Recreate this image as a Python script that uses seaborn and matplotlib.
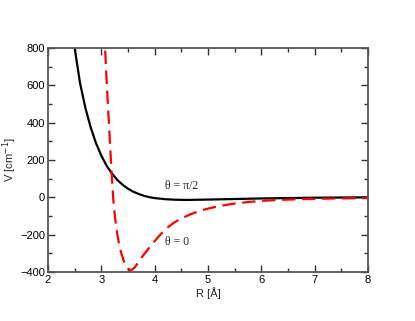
import numpy as np
import pandas as pd
import matplotlib
matplotlib.use("Agg")
import matplotlib.pyplot as plt
import seaborn as sns
from matplotlib.ticker import MultipleLocator

# theta = pi/2 curve
r_perp = [2.45, 2.50, 2.60, 2.70, 2.80, 2.90, 3.00, 3.10, 3.20, 3.30, 3.40, 3.50,
          3.60, 3.70, 3.80, 3.90, 4.00, 4.20, 4.40, 4.60, 5.00, 5.50, 6.00,
          6.50, 7.00, 7.50, 8.00]
v_perp = [874, 800, 613, 480, 375, 290, 223, 169, 127, 93, 67, 46,
          30, 18, 8, 1, -4, -10, -13, -14, -12, -9, -6,
          -4, -2, -1, 0]

# theta = 0 curve
r_par = [3.04, 3.07, 3.10, 3.13, 3.16, 3.19, 3.225, 3.26, 3.30, 3.34, 3.38, 3.42,
         3.46, 3.50, 3.54, 3.58, 3.62, 3.66, 3.72, 3.78, 3.85, 3.91, 4.00, 4.08,
         4.16, 4.25, 4.35, 4.48, 4.66, 4.85, 5.05, 5.25, 5.48, 5.79, 6.10, 6.50,
         6.91, 7.40, 8.00]
v_par = [1000, 800, 620, 460, 300, 140, -14, -115, -200, -262, -305, -340,
         -365, -382, -390, -387, -377, -362, -338, -313, -287, -265, -235, -208,
         -184, -160, -138, -116, -92, -72, -57, -45, -34, -24, -17, -12,
         -9, -6, -4]

sns.set_theme(style="ticks")
plt.rcParams['font.family'] = ['Liberation Sans', 'DejaVu Sans']

df = pd.concat([
    pd.DataFrame({'R': r_perp, 'V': v_perp, 'theta': 'perp'}),
    pd.DataFrame({'R': r_par, 'V': v_par, 'theta': 'par'}),
])

fig = plt.figure(figsize=(4.15, 3.21), dpi=100)
ax = fig.add_axes([48 / 415, 1 - 272 / 321, 320 / 415, 224 / 321])

sns.lineplot(data=df[df.theta == 'perp'], x='R', y='V', color='black', lw=1.6,
             ax=ax, sort=False, estimator=None)
sns.lineplot(data=df[df.theta == 'par'], x='R', y='V', color='#ff0000', lw=1.6,
             ax=ax, sort=False, estimator=None)
ax.lines[-1].set_dashes([6, 3])

ax.set_xlim(2, 8)
ax.set_ylim(-400, 800)
ax.xaxis.set_major_locator(MultipleLocator(1))
ax.xaxis.set_minor_locator(MultipleLocator(0.5))
ax.yaxis.set_major_locator(MultipleLocator(200))
ax.yaxis.set_minor_locator(MultipleLocator(100))
ax.tick_params(which='both', direction='in', top=True, right=True,
               colors='black', labelsize=8, pad=2)
ax.tick_params(which='major', length=5, width=1, color='#333333')
ax.tick_params(which='minor', length=3, width=1, color='#333333')
for s in ax.spines.values():
    s.set_color('#555555')
    s.set_linewidth(1.3)

ax.set_xlabel('R [Å]', fontsize=8, labelpad=2)
ax.set_ylabel('V [cm$^{-1}$]', fontsize=8, labelpad=1)

ax.text(4.2, 61, 'θ = π/2', fontsize=8.5, family='Liberation Serif', va='center')
ax.text(4.2, -239, 'θ = 0', fontsize=8.5, family='Liberation Serif', va='center')

fig.savefig('out.png', dpi=100)
